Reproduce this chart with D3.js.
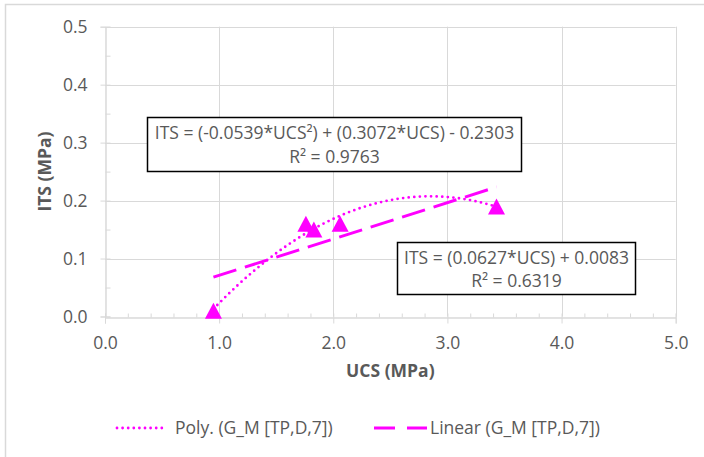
<!DOCTYPE html>
<html>
<head>
<meta charset="utf-8">
<script src="https://d3js.org/d3.v7.min.js"></script>
<style>
  body { margin: 0; background: #fff; }
  text { font-family: "Open Sans", sans-serif; fill: #595959; }
  .grid line { stroke: #d9d9d9; stroke-width: 1; }
</style>
</head>
<body>
<script>
// chart data
var ucs = [0.95, 1.76, 1.83, 2.06, 3.43];
var its = [0.01, 0.16, 0.15, 0.16, 0.19];

// trendline coefficients as printed on the chart
var polyCoef = [-0.0539, 0.3072, -0.2303];   // a*x^2 + b*x + c
var linCoef = [0.0627, 0.0083];              // m*x + k

var xTicks = [0, 1, 2, 3, 4, 5];
var yTicks = [0, 0.1, 0.2, 0.3, 0.4, 0.5];
var legendLabels = ["Poly. (G_M [TP,D,7])", "Linear (G_M [TP,D,7])"];
var polyLabel = ["ITS = (-0.0539*UCS\u00B2) + (0.3072*UCS) - 0.2303", "R\u00B2 = 0.9763"];
var linLabel = ["ITS = (0.0627*UCS) + 0.0083", "R\u00B2 = 0.6319"];

var width = 704,
    height = 457;
var pink = "#ff00ff";
var fs = "17.5px";

var svg = d3.select("body")
    .append("svg")
    .attr("width", width)
    .attr("height", height);

// outer chart border
svg.append("rect")
    .attr("x", 5.5).attr("y", 4.5)
    .attr("width", width).attr("height", height)
    .attr("fill", "#fff")
    .attr("stroke", "#d9d9d9")
    .attr("stroke-width", 1.5);

var x = d3.scaleLinear().domain([0, 5]).range([105, 675.7]);
var y = d3.scaleLinear().domain([0, 0.5]).range([316.5, 26.7]);

// gridlines
svg.append("g").attr("class", "grid")
    .selectAll("line")
    .data(yTicks.slice(1))
    .enter().append("line")
    .attr("x1", x(0)).attr("x2", x(5))
    .attr("y1", function(d){ return Math.round(y(d)) + 0.5; })
    .attr("y2", function(d){ return Math.round(y(d)) + 0.5; });

svg.append("g").attr("class", "grid")
    .selectAll("line")
    .data(xTicks.slice(1))
    .enter().append("line")
    .attr("y1", y(0)).attr("y2", y(0.5))
    .attr("x1", function(d){ return Math.round(x(d)) + 0.5; })
    .attr("x2", function(d){ return Math.round(x(d)) + 0.5; });

// x axis: major ticks outside, minor ticks inside
svg.append("g")
    .attr("transform", "translate(0," + (Math.round(y(0)) + 0.5) + ")")
    .call(d3.axisBottom(x).tickValues(xTicks).tickSize(6).tickPadding(13)
        .tickFormat(d3.format(".1f")));
svg.append("g")
    .attr("transform", "translate(0," + (Math.round(y(0)) + 0.5) + ")")
    .call(d3.axisTop(x).tickValues(d3.range(0, 5.01, 0.2)).tickSize(4).tickFormat(""));

// y axis
svg.append("g")
    .attr("transform", "translate(" + (Math.round(x(0)) + 0.5) + ",0)")
    .call(d3.axisLeft(y).tickValues(yTicks).tickSize(5).tickPadding(13)
        .tickFormat(d3.format(".1f")));
svg.append("g")
    .attr("transform", "translate(" + (Math.round(x(0)) + 0.5) + ",0)")
    .call(d3.axisRight(y).tickValues(d3.range(0, 0.501, 0.05)).tickSize(5).tickFormat(""));

svg.selectAll(".domain, .tick line").attr("stroke", "#d9d9d9");
svg.selectAll(".tick text").style("font-size", fs).attr("fill", "#595959");

// axis titles
svg.append("text")
    .attr("x", (x(0) + x(5)) / 2).attr("y", 377)
    .attr("text-anchor", "middle")
    .style("font-size", fs).style("font-weight", "bold")
    .text("UCS (MPa)");

svg.append("text")
    .attr("transform", "translate(51," + (y(0) + y(0.5)) / 2 + ") rotate(-90)")
    .attr("text-anchor", "middle")
    .style("font-size", fs).style("font-weight", "bold")
    .text("ITS (MPa)");

// trendlines
var xMin = d3.min(ucs), xMax = d3.max(ucs);
var line = d3.line()
    .x(function(d){ return x(d[0]); })
    .y(function(d){ return y(d[1]); });

var polyPts = d3.range(xMin, xMax + 0.001, (xMax - xMin) / 60).map(function(u){
    return [u, polyCoef[0] * u * u + polyCoef[1] * u + polyCoef[2]];
});
var linPts = [xMin, xMax].map(function(u){ return [u, linCoef[0] * u + linCoef[1]]; });

svg.append("path")
    .datum(polyPts)
    .attr("d", line)
    .attr("fill", "none")
    .attr("stroke", pink)
    .attr("stroke-width", 2.8)
    .attr("stroke-linecap", "round")
    .attr("stroke-dasharray", "0 5.6");

svg.append("path")
    .datum(linPts)
    .attr("d", line)
    .attr("fill", "none")
    .attr("stroke", pink)
    .attr("stroke-width", 3)
    .attr("stroke-dasharray", "24 9");

// triangle markers
svg.selectAll(".pt")
    .data(ucs)
    .enter().append("path")
    .attr("class", "pt")
    .attr("fill", pink)
    .attr("d", function(d, i){
        var cx = x(d), cy = y(its[i]);
        return "M" + (cx - 8.5) + "," + (cy + 8) + "L" + (cx + 8.5) + "," + (cy + 8) +
               "L" + cx + "," + (cy - 8) + "Z";
    });

// equation labels
function eqBox(lines, x0, y0, w, h, off) {
    var g = svg.append("g");
    g.append("rect")
        .attr("x", x0).attr("y", y0).attr("width", w).attr("height", h)
        .attr("fill", "#fff").attr("stroke", "#000").attr("stroke-width", 1.5);
    g.selectAll("text")
        .data(lines)
        .enter().append("text")
        .attr("x", x0 + w / 2)
        .attr("y", function(d, i){ return y0 + off[i]; })
        .attr("text-anchor", "middle")
        .style("font-size", fs)
        .text(function(d){ return d; });
}
eqBox(polyLabel, 147.5, 117.5, 374, 54, [21.5, 45.5]);
eqBox(linLabel, 397.5, 242.5, 238, 52, [21, 44.5]);

// legend
var legend = svg.append("g");
var legX = [117, 374];
legend.append("line")
    .attr("x1", legX[0]).attr("x2", legX[0] + 48).attr("y1", 428).attr("y2", 428)
    .attr("stroke", pink).attr("stroke-width", 2.8)
    .attr("stroke-linecap", "round").attr("stroke-dasharray", "0 5.6");
legend.append("line")
    .attr("x1", legX[1]).attr("x2", legX[1] + 53).attr("y1", 428).attr("y2", 428)
    .attr("stroke", pink).attr("stroke-width", 3).attr("stroke-dasharray", "21 12");
legend.selectAll("text")
    .data(legendLabels)
    .enter().append("text")
    .attr("x", function(d, i){ return i === 0 ? 175 : 430; })
    .attr("y", 434)
    .style("font-size", fs)
    .text(function(d){ return d; });
</script>
</body>
</html>
